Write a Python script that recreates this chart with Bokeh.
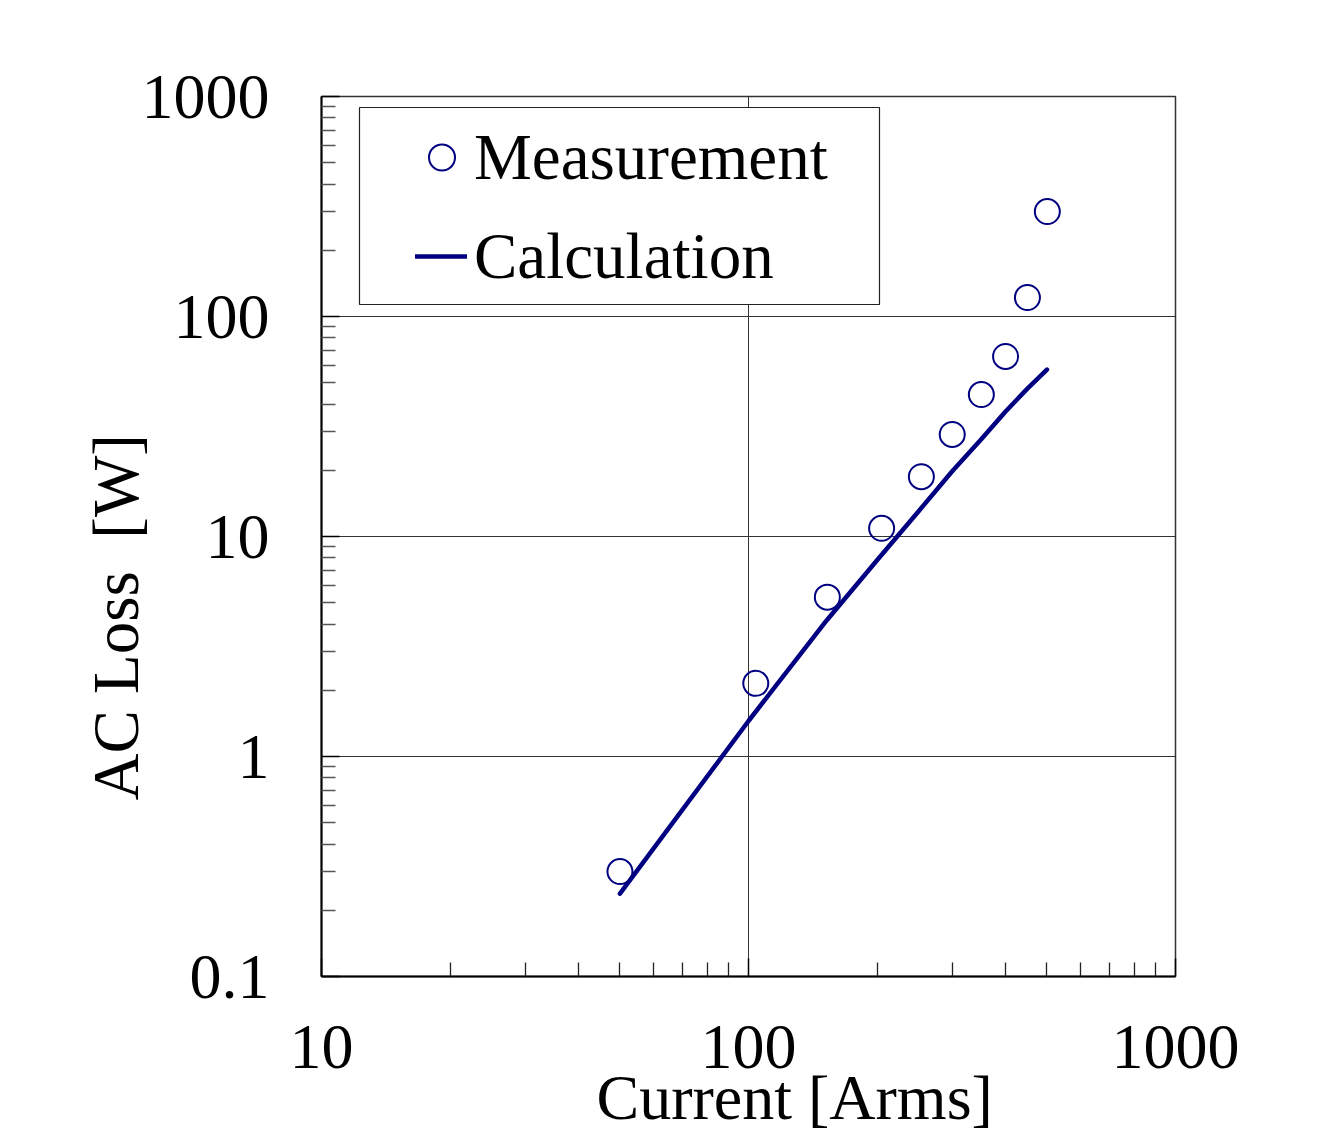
from bokeh.plotting import figure
from bokeh.models import (FixedTicker, Legend, LegendItem, BoxAnnotation, Title,
                          CustomJSTickFormatter)
from bokeh.embed import file_html
from bokeh.resources import INLINE

# ---- data ----
current_meas = [50, 104, 153, 205, 254, 300, 351, 400, 450, 501]
loss_meas = [0.30, 2.15, 5.3, 10.9, 18.7, 29.1, 44.2, 65.8, 122, 300]

current_calc = [50, 100, 150, 200, 250, 300, 350, 400, 450, 500]
loss_calc = [0.238, 1.45, 4.0, 7.8, 13.0, 19.8, 27.5, 37.0, 47.0, 57.4]

x_major = [10, 100, 1000]
x_labels = ["10", "100", "1000"]
x_minor = [20, 30, 40, 50, 60, 70, 80, 90, 200, 300, 400, 500, 600, 700, 800, 900]
y_major = [0.1, 1, 10, 100, 1000]
y_labels = ["0.1", "1", "10", "100", "1000"]
y_minor = [0.2, 0.3, 0.4, 0.5, 0.6, 0.7, 0.8, 0.9, 2, 3, 4, 5, 6, 7, 8, 9,
           20, 30, 40, 50, 60, 70, 80, 90, 200, 300, 400, 500, 600, 700, 800, 900]

x_title = "Current [Arms]"
y_title = "AC Loss\u00a0 [W]"
series_names = ["Measurement", "Calculation"]

FONT = "Liberation Serif"
NAVY = "#000080"

p = figure(width=1322, height=1133, x_axis_type="log", y_axis_type="log",
           x_range=(10, 1000), y_range=(0.1, 1000),
           output_backend="svg", toolbar_location=None,
           min_border_left=321, min_border_right=147,
           min_border_top=96, min_border_bottom=157)
p.title.visible = False
p.background_fill_color = "white"
p.border_fill_color = "white"
p.outline_line_color = "#333333"
p.outline_line_width = 1.5

xt = FixedTicker(ticks=x_major, minor_ticks=x_minor)
yt = FixedTicker(ticks=y_major, minor_ticks=y_minor)
p.xaxis.ticker = xt
p.yaxis.ticker = yt
p.xgrid.ticker = xt
p.ygrid.ticker = yt
for g in (p.xgrid, p.ygrid):
    g.grid_line_color = "#333333"
    g.grid_line_width = 1

p.xaxis.formatter = CustomJSTickFormatter(args=dict(vals=x_major, labels=x_labels),
    code="const i = vals.indexOf(tick); return i >= 0 ? labels[i] : String(tick);")
p.yaxis.formatter = CustomJSTickFormatter(args=dict(vals=y_major, labels=y_labels),
    code="const i = vals.indexOf(tick); return i >= 0 ? labels[i] : String(tick);")

for ax in (p.xaxis, p.yaxis):
    ax.axis_line_color = "black"
    ax.axis_line_width = 2
    ax.major_tick_in = 18
    ax.major_tick_out = 0
    ax.minor_tick_in = 14
    ax.minor_tick_out = 0
    ax.major_tick_line_color = "black"
    ax.major_tick_line_width = 1.5
    ax.minor_tick_line_width = 1.3
    ax.major_label_text_font = FONT
    ax.major_label_text_font_size = "64px"
    ax.major_label_text_color = "black"
p.xaxis.minor_tick_line_color = "#222222"
p.yaxis.minor_tick_line_color = "#555555"
p.xaxis.major_label_standoff = 49
p.yaxis.major_label_standoff = 52

# ---- data marks ----
sc = p.scatter(current_meas, loss_meas, marker="circle", size=25,
               fill_color=None, line_color=NAVY, line_width=2)
ln = p.line(current_calc, loss_calc, line_color=NAVY, line_width=4.5,
            line_cap="round")

# ---- legend frame + legend ----
box = BoxAnnotation(left=38, right=558, top=869, bottom=672,
                    left_units="screen", right_units="screen",
                    top_units="screen", bottom_units="screen",
                    fill_color="white", fill_alpha=1.0,
                    line_color="#222222", line_alpha=1.0, line_width=1.2)
p.add_layout(box)

common = dict(padding=12, spacing=0, glyph_height=76, label_height=76, margin=0,
              border_line_color=None, background_fill_alpha=0,
              label_text_font=FONT, label_text_font_size="65px",
              label_text_color="black")
leg1 = Legend(items=[LegendItem(label=series_names[0], renderers=[sc])],
              location=(88, 781), glyph_width=65, label_standoff=0, **common)
leg2 = Legend(items=[LegendItem(label=series_names[1], renderers=[ln])],
              location=(94, 682), glyph_width=52, label_standoff=7, **common)
p.add_layout(leg1)
p.add_layout(leg2)

# ---- axis titles ----
p.add_layout(Title(text=x_title, align="left", offset=275, vertical_align="top",
                   standoff=-18, text_font=FONT, text_font_size="64px",
                   text_font_style="normal", text_color="black"), "below")
p.add_layout(Title(text=y_title, align="left", offset=176, vertical_align="bottom",
                   standoff=-26, text_font=FONT, text_font_size="65px",
                   text_font_style="normal", text_color="black"), "left")

open("out.html", "w").write(file_html(p, INLINE))
